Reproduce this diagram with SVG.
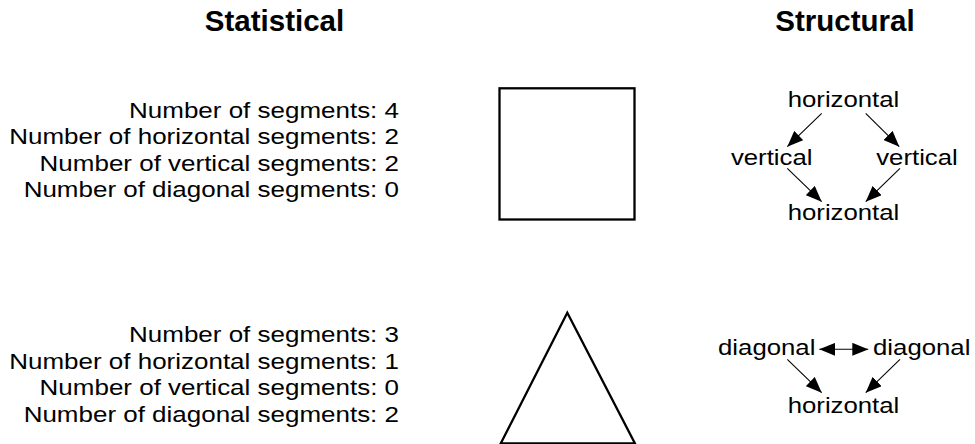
<svg xmlns="http://www.w3.org/2000/svg" width="975" height="444" viewBox="0 0 975 444">
<style>
  .h { font-family: "Liberation Sans", Arial, sans-serif; font-weight: bold; font-size: 29.5px; fill: #000; text-anchor: middle; }
  .t { font-family: "Liberation Sans", Arial, sans-serif; font-size: 22.2px; fill: #000; }
  .r { text-anchor: end; }
  .m { text-anchor: middle; }
  .shape { fill: none; stroke: #000; stroke-width: 2.3; stroke-linejoin: miter; }
  .edge { fill: none; stroke: #000; stroke-width: 1.1; }
</style>
<defs>
  <marker id="ah" viewBox="0 0 16 13" refX="16" refY="6.5" markerWidth="16" markerHeight="13" markerUnits="userSpaceOnUse" orient="auto-start-reverse">
    <path d="M0,0 L16,6.5 L0,13 Z" fill="#000"/>
  </marker>
</defs>
<rect width="975" height="444" fill="#fff"/>

<g id="title-statistical"><text class="h" x="274.5" y="31">Statistical</text></g>
<g id="title-structural"><text class="h" x="845" y="31">Structural</text></g>

<g id="stats-square">
  <text class="t r" transform="translate(399,117.5) scale(1.17,1)">Number of segments: 4</text>
  <text class="t r" transform="translate(399,144) scale(1.17,1)">Number of horizontal segments: 2</text>
  <text class="t r" transform="translate(399,170.5) scale(1.17,1)">Number of vertical segments: 2</text>
  <text class="t r" transform="translate(399,197) scale(1.17,1)">Number of diagonal segments: 0</text>
</g>
<g id="stats-triangle">
  <text class="t r" transform="translate(399,342) scale(1.17,1)">Number of segments: 3</text>
  <text class="t r" transform="translate(399,368.5) scale(1.17,1)">Number of horizontal segments: 1</text>
  <text class="t r" transform="translate(399,395) scale(1.17,1)">Number of vertical segments: 0</text>
  <text class="t r" transform="translate(399,421.5) scale(1.17,1)">Number of diagonal segments: 2</text>
</g>

<g id="square"><rect class="shape" x="499.5" y="88.3" width="135" height="131.2"/></g>
<g id="triangle"><path class="shape" d="M500.7,443.5 L567.3,312.7 L635,443.5 Z"/></g>

<g id="s1-top"><text class="t m" transform="translate(843.5,107.3) scale(1.16,1)">horizontal</text></g>
<g id="s1-left"><text class="t m" transform="translate(771.7,165) scale(1.16,1)">vertical</text></g>
<g id="s1-right"><text class="t m" transform="translate(917,165) scale(1.16,1)">vertical</text></g>
<g id="s1-bottom"><text class="t m" transform="translate(843.5,220) scale(1.16,1)">horizontal</text></g>

<g id="s2-left"><text class="t m" transform="translate(766.7,355) scale(1.16,1)">diagonal</text></g>
<g id="s2-right"><text class="t m" transform="translate(921.7,355) scale(1.16,1)">diagonal</text></g>
<g id="s2-bottom"><text class="t m" transform="translate(843.5,412.7) scale(1.16,1)">horizontal</text></g>

<g id="connectors">
  <line class="edge" x1="821.7" y1="113.3" x2="787.3" y2="146.7" marker-end="url(#ah)"/>
  <line class="edge" x1="865.7" y1="113.3" x2="899.3" y2="146.7" marker-end="url(#ah)"/>
  <line class="edge" x1="787.3" y1="168.3" x2="821.7" y2="201.7" marker-end="url(#ah)"/>
  <line class="edge" x1="900" y1="168.3" x2="865.7" y2="201.7" marker-end="url(#ah)"/>
  <line class="edge" x1="819.3" y1="349.3" x2="868.3" y2="349.3" marker-start="url(#ah)" marker-end="url(#ah)"/>
  <line class="edge" x1="787.3" y1="359.3" x2="821.7" y2="392.7" marker-end="url(#ah)"/>
  <line class="edge" x1="900" y1="359.3" x2="865.7" y2="392.7" marker-end="url(#ah)"/>
</g>
</svg>
